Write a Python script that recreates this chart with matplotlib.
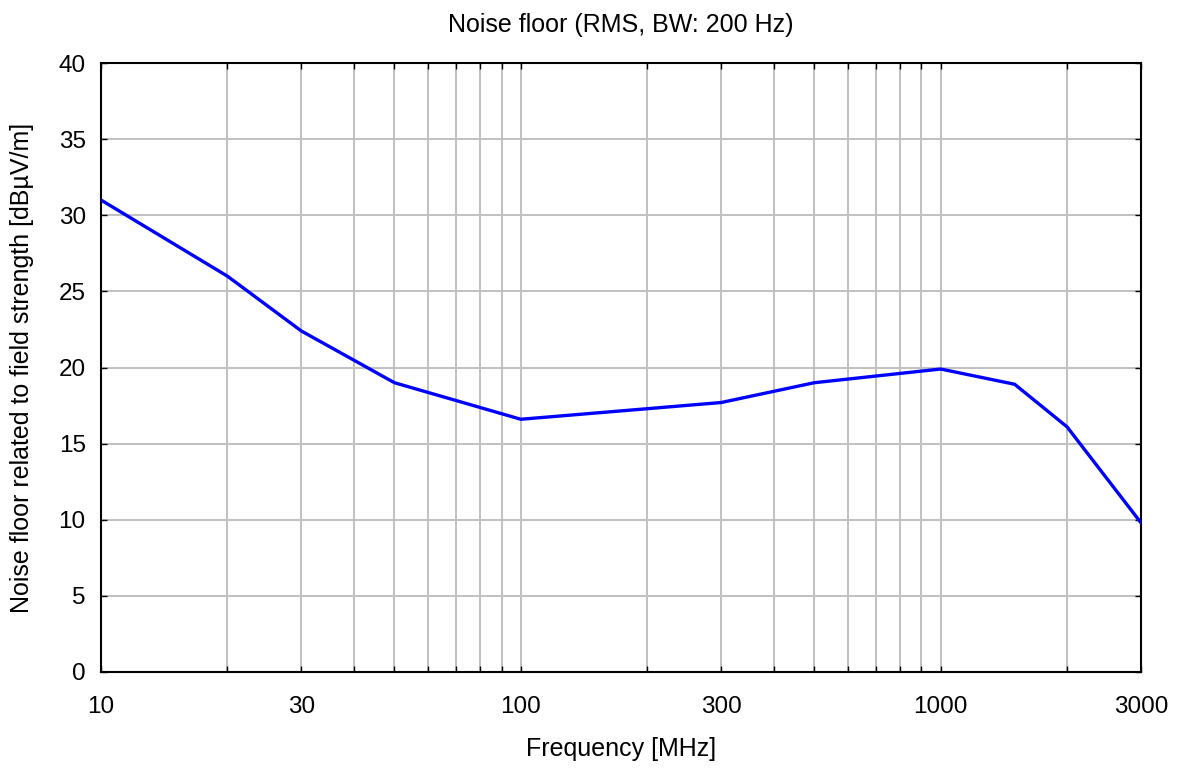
import matplotlib
matplotlib.use("Agg")
import matplotlib.pyplot as plt
from matplotlib.ticker import FixedLocator, NullFormatter, FixedFormatter

plt.rcParams['font.family'] = ['Liberation Sans', 'DejaVu Sans']

freq = [10, 20, 30, 50, 100, 300, 500, 1000, 1500, 2000, 3000]
noise = [31.0, 26.0, 22.4, 19.0, 16.6, 17.7, 19.0, 19.9, 18.9, 16.1, 9.8]

major_x = [10, 30, 100, 300, 1000, 3000]
major_labels = ["10", "30", "100", "300", "1000", "3000"]
grid_x = [20, 30, 40, 50, 60, 70, 80, 90, 100, 200, 300, 400, 500, 600, 700, 800, 900, 1000, 2000, 3000]
y_ticks = [0, 5, 10, 15, 20, 25, 30, 35, 40]

fig = plt.figure(figsize=(11.84, 7.73), dpi=100)
ax = fig.add_axes([101/1184, 1-672/773, 1040/1184, 609/773])

ax.plot(freq, noise, color='#0000ff', lw=2.4, zorder=3)
ax.set_xscale('log')
ax.set_xlim(10, 3000)
ax.set_ylim(0, 40)

ax.xaxis.set_major_locator(FixedLocator(major_x))
ax.xaxis.set_major_formatter(FixedFormatter(major_labels))
ax.xaxis.set_minor_locator(FixedLocator(grid_x))
ax.xaxis.set_minor_formatter(NullFormatter())
ax.set_yticks(y_ticks)

for x in grid_x:
    ax.axvline(x, color='#c0c0c0', lw=1.4, zorder=1)
for y in y_ticks[1:-1]:
    ax.axhline(y, color='#c0c0c0', lw=1.4, zorder=1)

ax.tick_params(axis='both', which='both', direction='in', top=True, right=True,
               length=4, width=1, labelsize=17.5)
ax.tick_params(axis='x', pad=17)
ax.tick_params(axis='y', pad=11)
for s in ax.spines.values():
    s.set_linewidth(1.5)

ax.set_title("Noise floor (RMS, BW: 200 Hz)", fontsize=18, pad=22)
ax.set_xlabel("Frequency [MHz]", fontsize=18, labelpad=14)
ax.set_ylabel("Noise floor related to field strength [dBµV/m]", fontsize=18, labelpad=18)

fig.savefig("out.png", dpi=100)
